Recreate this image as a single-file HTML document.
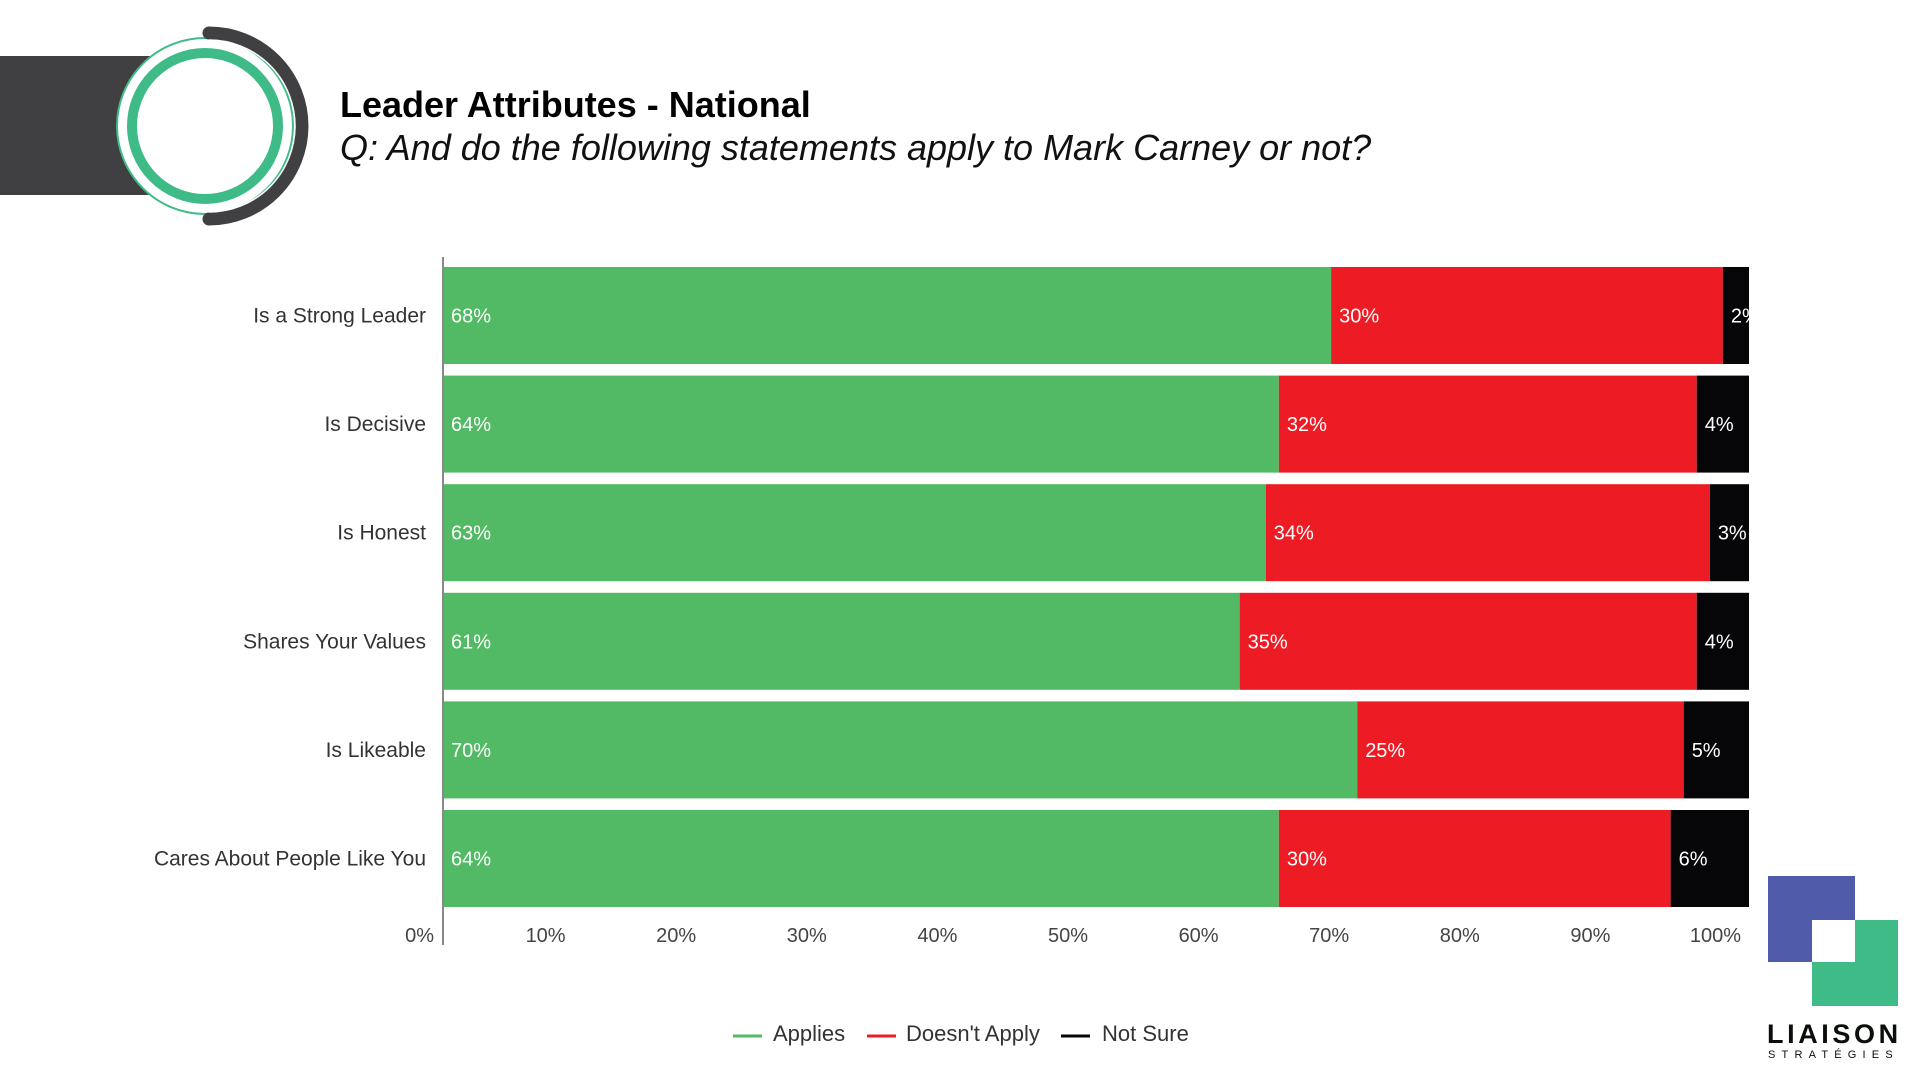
<!DOCTYPE html>
<html><head><meta charset="utf-8"><style>
html,body{margin:0;padding:0;background:#fff;width:1920px;height:1080px;overflow:hidden}
svg{display:block}
text{font-family:"Liberation Sans Narrow","Liberation Sans",sans-serif}
</style></head><body>
<svg id="chart" width="1920" height="1080" viewBox="0 0 1920 1080">
  <g>
    <rect x="0" y="56" width="160" height="139" fill="#404042"/>
    <circle cx="205" cy="126" r="88" fill="#fff" stroke="#3fbb87" stroke-width="2"/>
    <circle cx="205" cy="126" r="73" fill="#fff" stroke="#3fbb87" stroke-width="10"/>
    <path d="M209 33 A93 93 0 0 1 209 219" fill="none" stroke="#404042" stroke-width="13" stroke-linecap="round"/>
    <path d="M209 40 A86 86 0 0 1 209 212" fill="none" stroke="#fff" stroke-width="1.5"/>
  </g>
  <text x="340" y="117" font-size="36" font-weight="bold" fill="#000">Leader Attributes - National</text>
  <text x="340" y="160" font-size="36" font-style="italic" fill="#111">Q: And do the following statements apply to Mark Carney or not?</text>
  <g id="bars"></g>
  <g id="xaxis"></g>
  <g>
    <line x1="733" y1="1036" x2="762" y2="1036" stroke="#52ba64" stroke-width="3"/>
    <text x="773" y="1041" font-size="22" fill="#333">Applies</text>
    <line x1="867" y1="1036" x2="896" y2="1036" stroke="#ed1c24" stroke-width="3"/>
    <text x="906" y="1041" font-size="22" fill="#333">Doesn't Apply</text>
    <line x1="1061" y1="1036" x2="1090" y2="1036" stroke="#060608" stroke-width="3"/>
    <text x="1102" y="1041" font-size="22" fill="#333">Not Sure</text>
  </g>
  <g>
    <rect x="1768" y="876" width="87" height="86" fill="#4f5aa8"/>
    <rect x="1812" y="920" width="86" height="86" fill="#3fbb87"/>
    <rect x="1812" y="920" width="43" height="42" fill="#fff"/>
    <text x="1767" y="1043" font-size="27" font-weight="bold" fill="#0a0f0a" letter-spacing="3.6" font-family="Liberation Sans">LIAISON</text>
    <text x="1768" y="1058" font-size="11" fill="#0a0f0a" letter-spacing="6.2" font-family="Liberation Sans">STRATÉGIES</text>
  </g>
</svg>
<script>
const categories = ["Is a Strong Leader","Is Decisive","Is Honest","Shares Your Values","Is Likeable","Cares About People Like You"];
const applies = [68,64,63,61,70,64];
const doesntApply = [30,32,34,35,25,30];
const notSure = [2,4,3,4,5,6];
const ticks = [0,10,20,30,40,50,60,70,80,90,100];

const NS="http://www.w3.org/2000/svg";
const x0=443, x1=1749, top0=267, pitch=108.6, bh=97;
const xs=v=>x0+(x1-x0)*v/100;
const yb=i=>top0+i*pitch;
function mk(tag,attrs,parent){const e=document.createElementNS(NS,tag);for(const k in attrs)e.setAttribute(k,attrs[k]);parent.appendChild(e);return e;}
const bars=document.getElementById('bars'), ax=document.getElementById('xaxis');
const series=[{v:applies,c:"#52ba64",n:"applies"},{v:doesntApply,c:"#ed1c24",n:"doesnt-apply"},{v:notSure,c:"#060608",n:"not-sure"}];
categories.forEach((cat,i)=>{
  const y=yb(i);
  const lab=mk('text',{x:426,y:y+bh/2+7,'font-size':21,fill:'#333','text-anchor':'end'},bars);
  
  
  lab.textContent=cat;
  let acc=0;
  series.forEach(s=>{
    const v=s.v[i];
    const r=mk('rect',{x:xs(acc),y:y,width:xs(acc+v)-xs(acc),height:bh,fill:s.c},bars);
    
    
    const t=mk('text',{x:xs(acc)+8,y:y+bh/2+7,'font-size':20,fill:'#fff'},bars);
    
    
    t.textContent=v+'%';
    acc+=v;
  });
});
const axl=mk('line',{x1:x0,y1:257,x2:x0,y2:945,stroke:'#888','stroke-width':2},ax);


ticks.forEach(t=>{
  const e=mk('text',{x:xs(t)-(t===0?9:8),y:942,'font-size':20,fill:'#444','text-anchor':'end'},ax);
  
  
  e.textContent=t+'%';
});
</script>
</body></html>
